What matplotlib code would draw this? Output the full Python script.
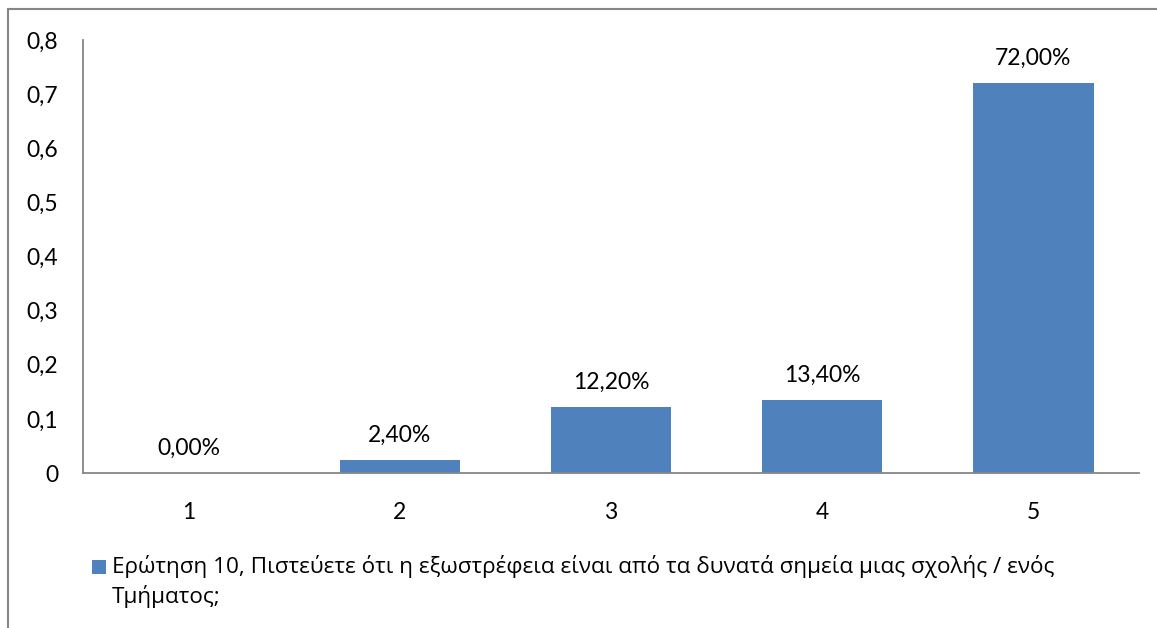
import matplotlib.pyplot as plt
from matplotlib.patches import Rectangle

# responses for question 10 (share of respondents per scale point)
categories = ['1', '2', '3', '4', '5']
shares = [0.0, 0.024, 0.122, 0.134, 0.72]
y_ticks = [0, 0.1, 0.2, 0.3, 0.4, 0.5, 0.6, 0.7, 0.8]
series_name = ('Ερώτηση 10, Πιστεύετε ότι η εξωστρέφεια είναι από τα δυνατά σημεία μιας σχολής / ενός\n'
               'Τμήματος;')

plt.rcParams['font.family'] = ['Lato', 'Open Sans', 'DejaVu Sans']
bar_color = '#4F81BD'
grey = '#868686'
fs = 16.5

W, H = 1157, 628
fig = plt.figure(figsize=(W / 100, H / 100), dpi=100)
ax = fig.add_axes([83 / W, 1 - 473 / H, (1139 - 83) / W, (473 - 40) / H])

x = range(len(categories))
bars = ax.bar(x, shares, width=0.57, color=bar_color, edgecolor='none')

for rect, v in zip(bars, shares):
    label = f'{v * 100:.2f}%'.replace('.', ',')
    ax.annotate(label, (rect.get_x() + rect.get_width() / 2, v),
                xytext=(0, 18), textcoords='offset points',
                ha='center', va='center', fontsize=fs)

ax.set_xlim(-0.5, len(categories) - 0.5)
ax.set_ylim(0, 0.8)
ax.set_xticks(list(x))
ax.set_xticklabels(categories)
ax.set_yticks(y_ticks)
ax.set_yticklabels([('0' if t == 0 else f'{t:.1f}'.replace('.', ',')) for t in y_ticks])
ax.tick_params(length=0, labelsize=fs)
ax.tick_params(axis='y', pad=18)
ax.tick_params(axis='x', pad=21)

for side in ['top', 'right']:
    ax.spines[side].set_visible(False)
for side in ['left', 'bottom']:
    ax.spines[side].set_color(grey)
    ax.spines[side].set_linewidth(1.3)

# legend: square marker next to the wrapped series name (Greek text in Open Sans)
fig.patches.append(Rectangle((92 / W, 1 - 574 / H), 14 / W, 14 / H,
                             transform=fig.transFigure, facecolor=bar_color,
                             edgecolor='none'))
fig.text(112 / W, 1 - 555 / H, series_name, fontsize=16.2, va='top', ha='left',
         linespacing=1.4, family=['Open Sans', 'DejaVu Sans'])

# chart frame
fig.patches.append(Rectangle((8 / W, -0.1), 1.2, 1 - 9 / H + 0.1,
                             transform=fig.transFigure, facecolor='none',
                             edgecolor=grey, linewidth=1.5))

fig.savefig('out.png', dpi=100)
